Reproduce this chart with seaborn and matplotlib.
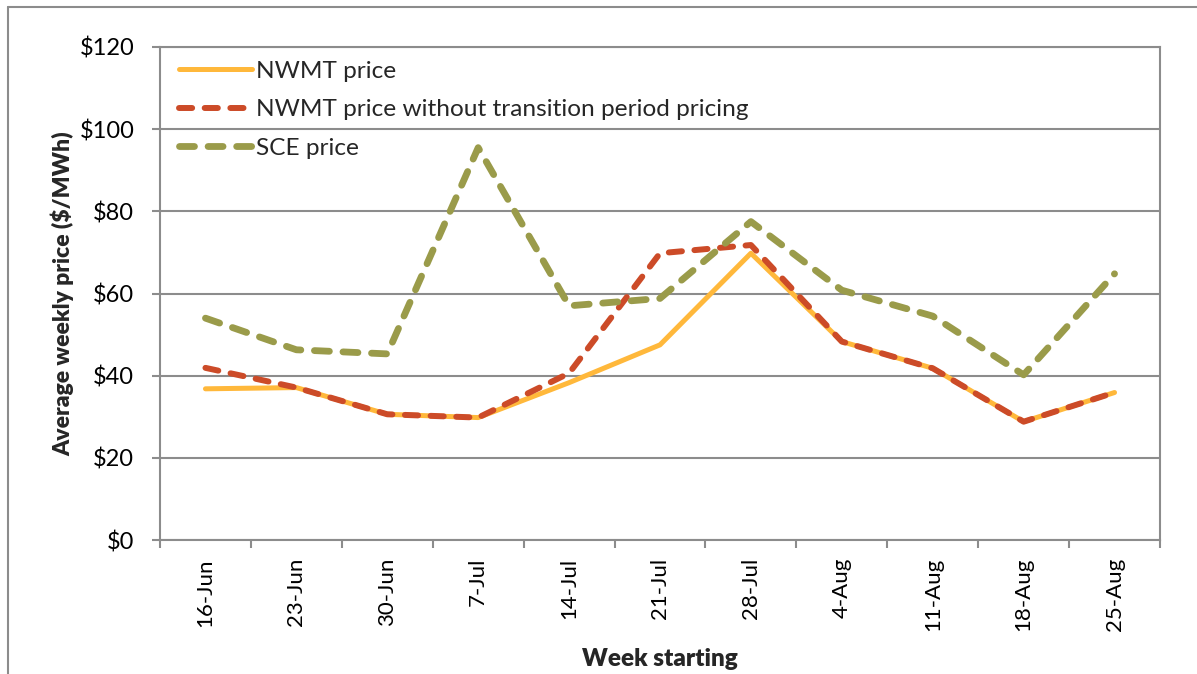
import matplotlib
matplotlib.use("Agg")
import matplotlib.pyplot as plt
import seaborn as sns
import pandas as pd
from matplotlib.lines import Line2D

weeks = ["16-Jun", "23-Jun", "30-Jun", "7-Jul", "14-Jul", "21-Jul",
         "28-Jul", "4-Aug", "11-Aug", "18-Aug", "25-Aug"]
nwmt_price = [36.8, 37.1, 30.6, 29.8, 38.3, 47.5, 69.8, 48.3, 41.8, 28.8, 35.9]
nwmt_no_transition = [41.9, 37.1, 30.6, 29.8, 40.6, 69.8, 71.8, 48.3, 41.8, 28.8, 35.9]
sce_price = [54.0, 46.3, 45.3, 95.5, 57.0, 58.8, 77.5, 60.8, 54.5, 40.2, 64.8]

series_names = ["NWMT price", "NWMT price without transition period pricing", "SCE price"]
y_ticks = [0, 20, 40, 60, 80, 100, 120]
y_ticklabels = ["$0", "$20", "$40", "$60", "$80", "$100", "$120"]

sns.set_style("white")
plt.rcParams["font.family"] = ["Lato", "DejaVu Sans"]

df = pd.DataFrame({
    "pos": list(range(len(weeks))),
    "week": weeks,
    series_names[0]: nwmt_price,
    series_names[1]: nwmt_no_transition,
    series_names[2]: sce_price,
})

W, H = 1197, 674
fig = plt.figure(figsize=(W / 100, H / 100), dpi=100)
ax = fig.add_axes([160 / W, 1 - 540 / H, 1000 / W, 493 / H])

grid_col = "#8c8c8c"
styles = [
    dict(color="#FFB83B", lw=3.6, linestyle="-"),
    dict(color="#CC4B28", lw=4.3, linestyle=(0, (2.2, 2.1))),
    dict(color="#9A9B4A", lw=4.9, linestyle=(0, (2.2, 2.0))),
]
for name, st in zip(series_names, styles):
    sns.lineplot(data=df, x="pos", y=name, ax=ax, label=name,
                 color=st["color"], lw=st["lw"], linestyle=st["linestyle"],
                 dash_capstyle="round", solid_capstyle="round",
                 solid_joinstyle="round", dash_joinstyle="round")

ax.set_xlim(-0.5, len(weeks) - 0.5)
ax.set_ylim(0, 120)
ax.set_yticks(y_ticks)
ax.set_yticklabels(y_ticklabels)
ax.set_xticks(range(len(weeks)))
ax.set_xticklabels(weeks, rotation=90)
ax.set_xticks([i - 0.5 for i in range(len(weeks) + 1)], minor=True)

ax.yaxis.grid(True, color=grid_col, lw=1.5)
ax.set_axisbelow(True)
for s in ax.spines.values():
    s.set_color(grid_col)
    s.set_linewidth(1.5)

ax.tick_params(axis="x", which="major", length=0, pad=13, labelsize=16, colors="black")
ax.tick_params(axis="x", which="minor", length=5.5, width=1.5, color=grid_col, direction="out", bottom=True)
ax.tick_params(axis="y", which="major", length=5.5, width=1.5, color=grid_col, direction="out", left=True, pad=13, labelsize=17)
for lab in ax.get_xticklabels() + ax.get_yticklabels():
    lab.set_color("black")

ax.set_xlabel("Week starting", fontsize=17.5, fontweight="heavy", labelpad=12)
ax.set_ylabel("Average weekly price ($/MWh)", fontsize=16.5, fontweight="heavy", labelpad=4)

ax.legend(loc="upper left", bbox_to_anchor=(0.006, 1.0), frameon=False,
          fontsize=17.6, handlelength=2.95, handletextpad=0.2, labelspacing=0.72,
          borderaxespad=0.15)

fig.add_artist(Line2D([8 / W, 1.0], [1 - 7 / H, 1 - 7 / H], transform=fig.transFigure,
                      color=grid_col, lw=1.5))
fig.add_artist(Line2D([8 / W, 8 / W], [0.0, 1 - 7 / H], transform=fig.transFigure,
                      color=grid_col, lw=1.5))

fig.savefig("out.png", dpi=100, facecolor="white")
